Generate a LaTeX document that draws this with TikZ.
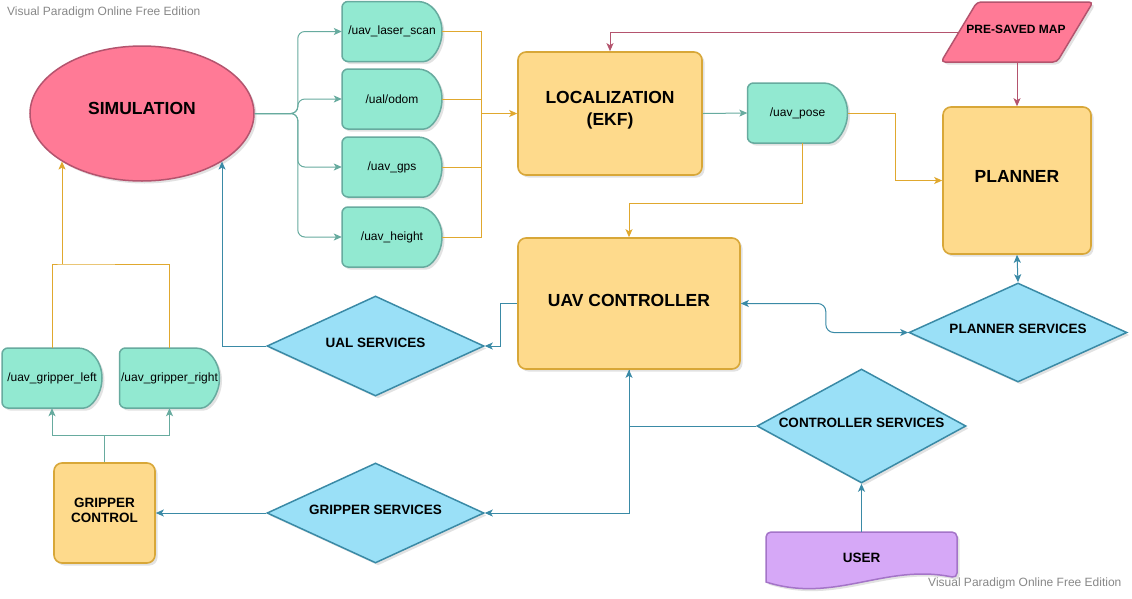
\documentclass[tikz,border=0pt]{standalone}
\usepackage{fontspec}
\setmainfont{Liberation Sans}
\usetikzlibrary{arrows.meta,shapes.geometric,shadows,calc}
\definecolor{mintF}{RGB}{146,233,209}
\definecolor{mintD}{RGB}{103,171,159}
\definecolor{orF}{RGB}{254,218,140}
\definecolor{orD}{RGB}{216,167,56}
\definecolor{orA}{RGB}{224,168,46}
\definecolor{blF}{RGB}{154,224,247}
\definecolor{blD}{RGB}{58,138,166}
\definecolor{pkF}{RGB}{255,122,150}
\definecolor{pkD}{RGB}{180,84,110}
\definecolor{puF}{RGB}{214,168,247}
\definecolor{puD}{RGB}{164,116,200}
\definecolor{wmC}{RGB}{136,136,136}
\newcommand\fbig{\fontsize{17.5}{22}\selectfont\bfseries}
\newcommand\fmid{\fontsize{13.5}{15.5}\selectfont\bfseries}
\newcommand\fsmb{\fontsize{12}{14}\selectfont\bfseries}
\newcommand\fsm{\fontsize{12}{14}\selectfont}
\tikzset{
  shd/.style={drop shadow={shadow xshift=2.5pt,shadow yshift=-2.5pt,opacity=0.16,fill=black!70}},
  obox/.style={rectangle,draw=orD,fill=orF,line width=1.6pt,rounded corners=8pt,shd,inner sep=0},
  dia/.style={diamond,draw=blD,fill=blF,line width=1.5pt,shd,inner sep=0},
  topicline/.style={draw=mintD,fill=mintF,line width=1.5pt,shd},
  topictext/.style={rectangle,minimum width=100pt,minimum height=60pt,inner sep=0,font=\fsm},
  lblbig/.style={inner sep=0,font=\fbig,align=center},
  lblmid/.style={inner sep=0,font=\fmid,align=center},
  tip/.style={-{Stealth[length=8pt,width=7pt,inset=2pt]}},
  dtip/.style={{Stealth[length=8pt,width=7pt,inset=2pt]}-{Stealth[length=8pt,width=7pt,inset=2pt]}},
  cg/.style={draw=mintD,line width=1pt},
  co/.style={draw=orA,line width=1pt},
  cp/.style={draw=pkD,line width=1pt},
  cb/.style={draw=blD,line width=1pt},
}
\newcommand\mytopic[4]{%
  \draw[topicline] ({#2},{-(#3)+30}) [rounded corners=6pt] -- ({#2-50},{-(#3)+30}) -- ({#2-50},{-(#3)-30}) -- ({#2+26},{-(#3)-30}) [sharp corners] arc[start angle=-90,end angle=90,x radius=24,y radius=30] -- cycle;
  \node[topictext] (#1) at ({#2},{-(#3)}) {#4};
}
\begin{document}
\begin{tikzpicture}[x=1pt,y=1pt]
\useasboundingbox (0,0) rectangle (1132,-598);
\fill[white] (0,0) rectangle (1132,-598);

% ---------- shapes ----------
\node[ellipse,draw=pkD,fill=pkF,line width=1.5pt,shd,minimum width=224pt,minimum height=135pt,inner sep=0] (sim) at (142,-113.5) {};
\node[lblbig] (simlbl) at (142,-108) {SIMULATION};

\mytopic{ls}{392}{31.5}{/uav\_laser\_scan}
\mytopic{odom}{392}{99}{/ual/odom}
\mytopic{gps}{392}{167}{/uav\_gps}
\mytopic{hgt}{392}{237}{/uav\_height}
\mytopic{pose}{797.5}{113}{/uav\_pose}
\mytopic{gl}{52}{378}{/uav\_gripper\_left}
\mytopic{gr}{169.5}{378}{/uav\_gripper\_right}

\node[obox,minimum width=184pt,minimum height=123pt] (loc) at (610,-113.5) {};
\node[lblbig] (loclbl) at (610,-110) {LOCALIZATION\\(EKF)};

\draw[draw=pkD,fill=pkF,line width=1.5pt,rounded corners=4pt,shd] (977,-2) -- (1093,-2) -- (1057,-62) -- (941,-62) -- cycle;
\node[rectangle,minimum width=116pt,minimum height=60pt,inner sep=0] (map) at (1017,-32) {};
\node[inner sep=0,font=\fsmb] (maplbl) at (1016,-29) {PRE-SAVED MAP};

\node[obox,minimum width=148pt,minimum height=147pt] (planner) at (1017,-180.5) {};
\node[lblbig] (planlbl) at (1017,-176) {PLANNER};

\node[obox,minimum width=222pt,minimum height=131pt] (ctrl) at (629,-303.5) {};
\node[lblbig] (ctrllbl) at (629,-300) {UAV CONTROLLER};

\node[dia,minimum width=217pt,minimum height=100pt] (ual) at (375.5,-346) {};
\node[lblmid] (uallbl) at (375.5,-343) {UAL SERVICES};

\node[dia,minimum width=217pt,minimum height=100pt] (gs) at (375.5,-513) {};
\node[lblmid] (gslbl) at (375.5,-510) {GRIPPER SERVICES};

\node[dia,minimum width=218pt,minimum height=99pt] (ps) at (1018,-332.5) {};
\node[lblmid] (pslbl) at (1018,-329) {PLANNER SERVICES};

\node[dia,minimum width=209pt,minimum height=114pt] (cs) at (861.5,-426) {};
\node[lblmid] (cslbl) at (861.5,-423) {CONTROLLER SERVICES};

\node[obox,minimum width=101pt,minimum height=100pt] (gc) at (104.5,-513) {};
\node[lblmid] (gclbl) at (104.5,-510.5) {GRIPPER\\CONTROL};

\draw[draw=puD,fill=puF,line width=1.5pt,shd] (766,-555) [rounded corners=5pt] -- (766,-532) -- (957,-532) -- (957,-578) [sharp corners] .. controls (885,-563) and (835,-604) .. (766,-582) -- cycle;
\node[rectangle,minimum width=191pt,minimum height=46pt,inner sep=0] (user) at (861.5,-555) {};
\node[lblmid] (userlbl) at (861.5,-558) {USER};

% ---------- connectors ----------
\foreach \t in {ls,odom,gps,hgt}{
  \draw[cg,tip,rounded corners=7pt] (sim.east) -| ([xshift=-44pt]\t.west) -- (\t.west);
}
\coordinate (bus) at (481,-113.5);
\foreach \t in {ls,odom,gps,hgt}{
  \draw[co] (\t.east) -| (bus);
}
\draw[co,tip] (bus) -- (loc.west);
\draw[cg,tip] (loc.east) -- (pose.west);
\draw[co,tip] (pose.east) -- ++(48,0) |- (planner.west);
\draw[co,tip] ([xshift=4.5pt]pose.south) -- ++(0,-60) -| (ctrl.north);
\draw[cp,tip] (map.west) -| (loc.north);
\draw[cp,tip] (map.south) -- (planner.north);
\draw[cb,dtip] (planner.south) -- (ps.north);
\draw[cb,dtip,rounded corners=8pt] (ctrl.east) -- ++(85,0) |- (ps.west);
\draw[cb,tip] (ctrl.west) -- ++(-17,0) |- (ual.east);
\draw[cb,tip] (ual.west) -| (sim.329);
\draw[cb,tip] (cs.west) -| (ctrl.south);
\draw[cb,tip] (ctrl.south) |- (gs.east);
\draw[cb,tip] (gs.west) -- (gc.east);
\draw[cb,tip] (user.north) -- (cs.south);

\coordinate (jg) at (62,-264);
\draw[co] (gl.north) |- (jg) -| (gr.north);
\draw[co,tip] (jg) -- (jg |- sim.211);
\draw[cg,tip] (gc.north) -- ++(0,27) -| (gl.south);
\draw[cg,tip] (gc.north) -- ++(0,27) -| (gr.south);

% ---------- watermarks ----------
\node[anchor=west,inner sep=0,text=wmC,font=\fsm] (wm1) at (7,-12) {Visual Paradigm Online Free Edition};
\node[anchor=west,inner sep=0,text=wmC,font=\fsm] (wm2) at (928,-583) {Visual Paradigm Online Free Edition};
\end{tikzpicture}
\end{document}
